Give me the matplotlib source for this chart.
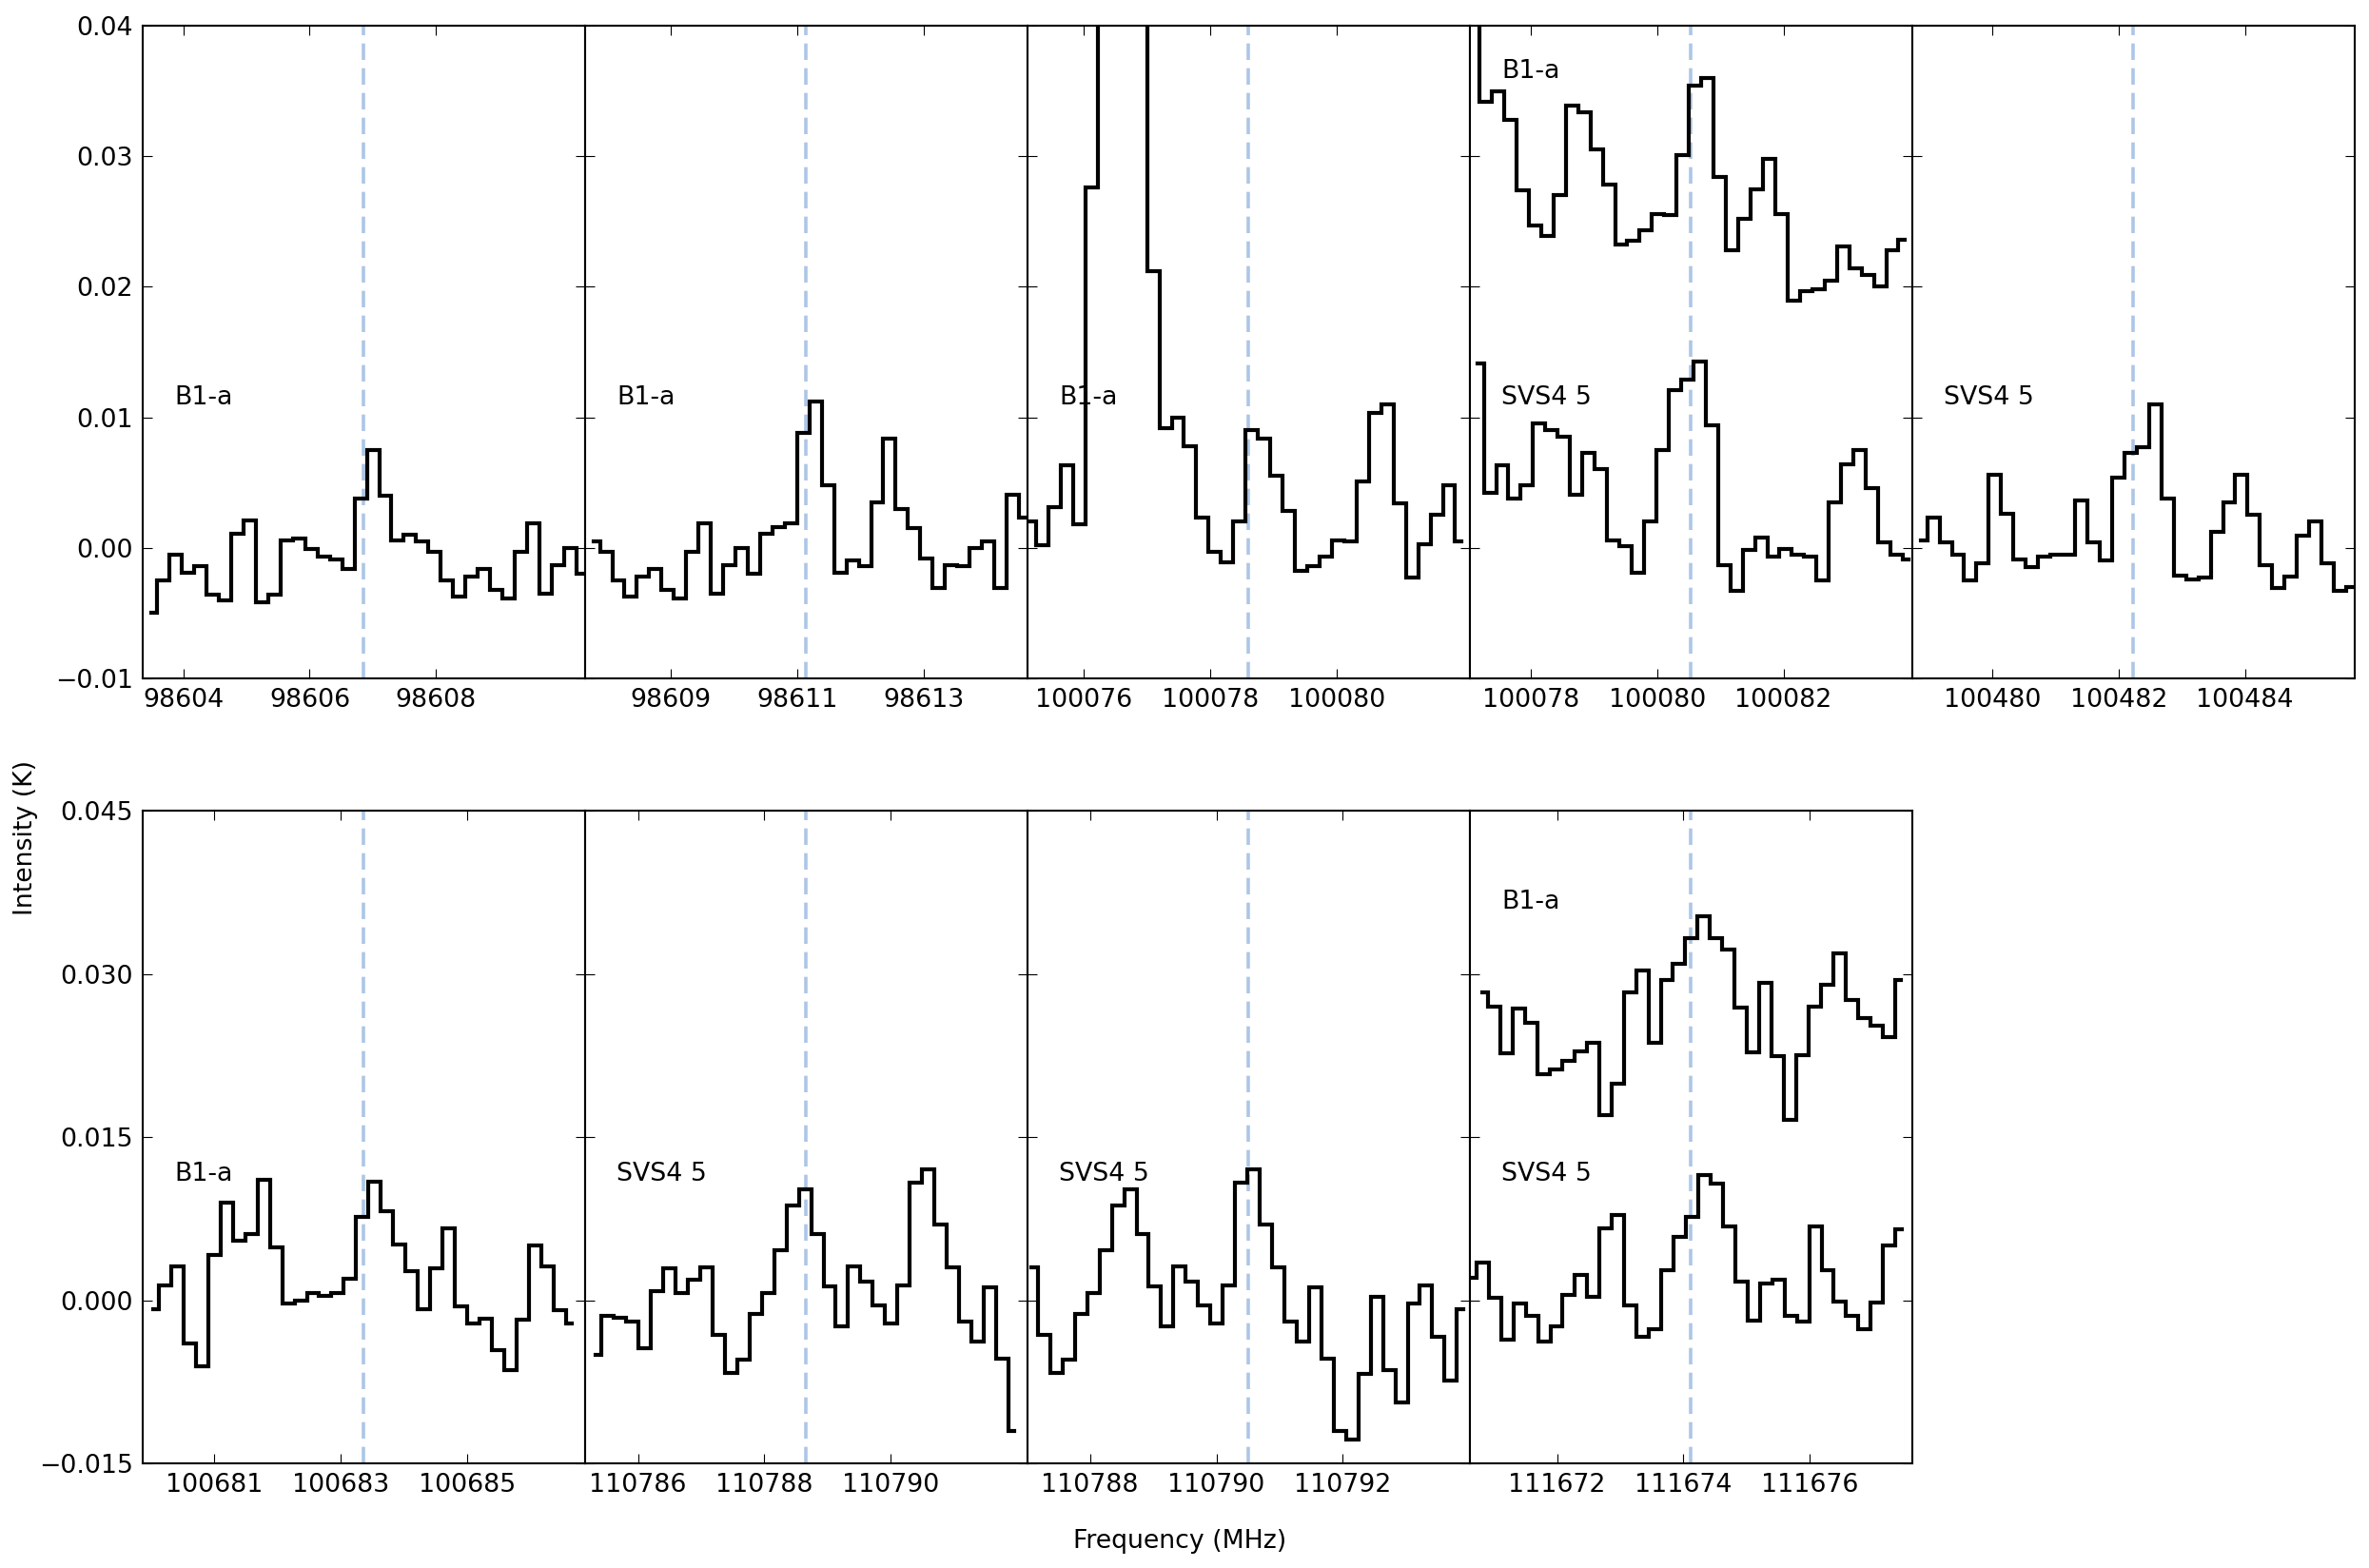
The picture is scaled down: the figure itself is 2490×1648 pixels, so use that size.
import numpy as np
import matplotlib
matplotlib.use('Agg')
import matplotlib.pyplot as plt

# channel width (MHz)
chan = 0.195

# line rest frequencies (dashed lines), one per panel
centers = [98606.857, 98611.145, 100078.608, 100080.538, 100482.236,
           100683.367, 110788.663, 110790.510, 111674.120]

# tick labels per panel
xticks = [[98604, 98606, 98608], [98609, 98611, 98613], [100076, 100078, 100080],
          [100078, 100080, 100082], [100480, 100482, 100484],
          [100681, 100683, 100685], [110786, 110788, 110790],
          [110788, 110790, 110792], [111672, 111674, 111676]]

# first channel frequency of each spectrum
f0_p1 = 98603.492
f0_p2 = 98607.783
f0_p3 = 100075.148
f0_p4a = 100077.093
f0_p4s = 100077.161
f0_p5 = 100478.875
f0_p6 = 100680.028
f0_p7 = 110785.328
f0_p8 = 110787.078
f0_p9a = 111670.812
f0_p9s = 111670.626

# spectra (K)
p1_b1a = [-0.0050, -0.0025, -0.0005, -0.0019, -0.0014, -0.0036, -0.0040, 0.0011, 0.0021,
          -0.0042, -0.0036, 0.0006, 0.0007, -0.0001, -0.0007, -0.0009, -0.0016, 0.0038,
          0.0075, 0.0040, 0.0006, 0.0010, 0.0005, -0.0003, -0.0025, -0.0037, -0.0022,
          -0.0016, -0.0032, -0.0039, -0.0003, 0.0019, -0.0035, -0.0013, 0.0000, -0.0020]
p2_b1a = [0.0005, -0.0003, -0.0025, -0.0037, -0.0022, -0.0016, -0.0032, -0.0039, -0.0003,
          0.0019, -0.0035, -0.0013, 0.0000, -0.0020, 0.0011, 0.0016, 0.0019, 0.0088,
          0.0112, 0.0048, -0.0019, -0.0010, -0.0014, 0.0035, 0.0084, 0.0030, 0.0015,
          -0.0008, -0.0031, -0.0013, -0.0014, 0.0000, 0.0005, -0.0031, 0.0041, 0.0023]
p3_b1a = [0.0020, 0.0002, 0.0031, 0.0063, 0.0018, 0.0276, 0.055, 0.085, 0.075, 0.048,
          0.0212, 0.0092, 0.0100, 0.0078, 0.0023, -0.0003, -0.0011, 0.0020, 0.0090,
          0.0084, 0.0055, 0.0028, -0.0018, -0.0014, -0.0007, 0.0006, 0.0005, 0.0051,
          0.0103, 0.0110, 0.0034, -0.0023, 0.0003, 0.0025, 0.0048, 0.0005]
p4_b1a = [0.048, 0.0342, 0.0350, 0.0328, 0.0274, 0.0247, 0.0239, 0.0270, 0.0339, 0.0334,
          0.0305, 0.0278, 0.0232, 0.0235, 0.0243, 0.0256, 0.0255, 0.0301, 0.0354, 0.0360,
          0.0284, 0.0228, 0.0252, 0.0275, 0.0298, 0.0256, 0.0189, 0.0197, 0.0198, 0.0205,
          0.0231, 0.0214, 0.0209, 0.0200, 0.0228, 0.0236]
p4_svs = [0.0141, 0.0042, 0.0063, 0.0038, 0.0048, 0.0095, 0.0090, 0.0085, 0.0041, 0.0073,
          0.0060, 0.0006, 0.0001, -0.0019, 0.0020, 0.0075, 0.0121, 0.0129, 0.0143, 0.0094,
          -0.0013, -0.0033, -0.0002, 0.0008, -0.0007, -0.0001, -0.0005, -0.0007, -0.0025,
          0.0035, 0.0064, 0.0075, 0.0046, 0.0004, -0.0005, -0.0009]
p5_svs = [0.0006, 0.0023, 0.0004, -0.0005, -0.0025, -0.0012, 0.0056, 0.0026, -0.0009,
          -0.0015, -0.0007, -0.0005, -0.0005, 0.0036, 0.0004, -0.0010, 0.0054, 0.0073,
          0.0077, 0.0110, 0.0038, -0.0021, -0.0024, -0.0023, 0.0012, 0.0035, 0.0056,
          0.0025, -0.0013, -0.0031, -0.0022, 0.0009, 0.0020, -0.0012, -0.0033, -0.0030]
p6_b1a = [-0.0008, 0.0014, 0.0031, -0.0040, -0.0061, 0.0042, 0.0090, 0.0055, 0.0061,
          0.0111, 0.0049, -0.0003, 0.0000, 0.0007, 0.0004, 0.0007, 0.0020, 0.0077, 0.0109,
          0.0082, 0.0051, 0.0027, -0.0008, 0.0029, 0.0066, -0.0006, -0.0021, -0.0017,
          -0.0046, -0.0064, -0.0018, 0.0050, 0.0031, -0.0009, -0.0021]
p7_svs = [-0.0050, -0.0014, -0.0016, -0.0020, -0.0044, 0.0008, 0.0029, 0.0007, 0.0019,
          0.0030, -0.0032, -0.0067, -0.0055, -0.0013, 0.0007, 0.0046, 0.0087, 0.0102,
          0.0061, 0.0013, -0.0024, 0.0031, 0.0017, -0.0005, -0.0021, 0.0014, 0.0108,
          0.0120, 0.0070, 0.0030, -0.0020, -0.0038, 0.0012, -0.0054, -0.0120]
p8_svs = [0.0030, -0.0032, -0.0067, -0.0055, -0.0013, 0.0007, 0.0046, 0.0087, 0.0102,
          0.0061, 0.0013, -0.0024, 0.0031, 0.0017, -0.0005, -0.0021, 0.0014, 0.0108,
          0.0120, 0.0070, 0.0030, -0.0020, -0.0038, 0.0012, -0.0054, -0.0120, -0.0128,
          -0.0068, 0.0003, -0.0064, -0.0094, -0.0003, 0.0014, -0.0034, -0.0074, -0.0008]
p9_b1a = [0.0283, 0.0270, 0.0227, 0.0268, 0.0255, 0.0208, 0.0212, 0.0220, 0.0229, 0.0237,
          0.0170, 0.0199, 0.0283, 0.0303, 0.0237, 0.0294, 0.0309, 0.0333, 0.0353, 0.0333,
          0.0322, 0.0269, 0.0228, 0.0292, 0.0224, 0.0166, 0.0225, 0.0270, 0.0290, 0.0319,
          0.0276, 0.0259, 0.0252, 0.0242, 0.0294]
p9_svs = [0.0021, 0.0035, 0.0002, -0.0036, -0.0003, -0.0014, -0.0038, -0.0024, 0.0005,
          0.0023, 0.0003, 0.0066, 0.0078, -0.0005, -0.0034, -0.0027, 0.0028, 0.0058,
          0.0077, 0.0115, 0.0107, 0.0068, 0.0017, -0.0019, 0.0015, 0.0019, -0.0014,
          -0.0020, 0.0068, 0.0028, -0.0001, -0.0014, -0.0027, -0.0002, 0.0050, 0.0065]

# label heights for the text next to each spectrum
lab_low = 0.011
lab_high = 0.036

# (f0, values, label, label y) per panel
panels = [
    [(f0_p1, p1_b1a, 'B1-a', lab_low)],
    [(f0_p2, p2_b1a, 'B1-a', lab_low)],
    [(f0_p3, p3_b1a, 'B1-a', lab_low)],
    [(f0_p4a, p4_b1a, 'B1-a', lab_high), (f0_p4s, p4_svs, 'SVS4 5', lab_low)],
    [(f0_p5, p5_svs, 'SVS4 5', lab_low)],
    [(f0_p6, p6_b1a, 'B1-a', lab_low)],
    [(f0_p7, p7_svs, 'SVS4 5', lab_low)],
    [(f0_p8, p8_svs, 'SVS4 5', lab_low)],
    [(f0_p9a, p9_b1a, 'B1-a', lab_high), (f0_p9s, p9_svs, 'SVS4 5', lab_low)],
]

fs = 19.3
plt.rcParams['font.family'] = 'DejaVu Sans'
plt.rcParams['font.size'] = fs
plt.rcParams['axes.formatter.useoffset'] = False

fig = plt.figure(figsize=(24.9, 16.48), dpi=100)

left = 0.0602
w = 0.18675
row_pos = [(0.5674, 0.4162), (0.0667, 0.4163)]
ylims = [(-0.01, 0.04), (-0.015, 0.045)]
yticks = [[-0.01, 0.0, 0.01, 0.02, 0.03, 0.04], [-0.015, 0.0, 0.015, 0.030, 0.045]]

for i, series in enumerate(panels):
    row = 0 if i < 5 else 1
    col = i if i < 5 else i - 5
    b, h = row_pos[row]
    ax = fig.add_axes([left + col * w, b, w, h])
    c = centers[i]
    ax.axvline(c, color='#adc6e6', lw=2.6, linestyle=(0, (4.8, 2.4)), zorder=1)
    for f0, vals, lab, ly in series:
        x = f0 + chan * np.arange(len(vals))
        ax.step(x, vals, where='mid', color='k', lw=3.0, zorder=2,
                solid_joinstyle='miter')
        ax.text(c - 3.0, ly, lab, fontsize=fs)
    ax.set_xlim(c - 3.5, c + 3.5)
    ax.set_ylim(*ylims[row])
    ax.set_yticks(yticks[row])
    ax.set_xticks(xticks[i])
    ax.set_xticklabels([str(t) for t in xticks[i]])
    ax.tick_params(direction='in', top=True, right=True, length=7, width=0.8,
                   pad=7)
    for sp in ax.spines.values():
        sp.set_linewidth(1.5)
    if col != 0:
        ax.tick_params(labelleft=False)

fig.text(0.011, 0.466, 'Intensity (K)', rotation=90, ha='center', va='center',
         fontsize=fs)
fig.text(0.498, 0.017, 'Frequency (MHz)', ha='center', va='center', fontsize=fs)

fig.savefig('out.png', dpi=100, facecolor='white')
